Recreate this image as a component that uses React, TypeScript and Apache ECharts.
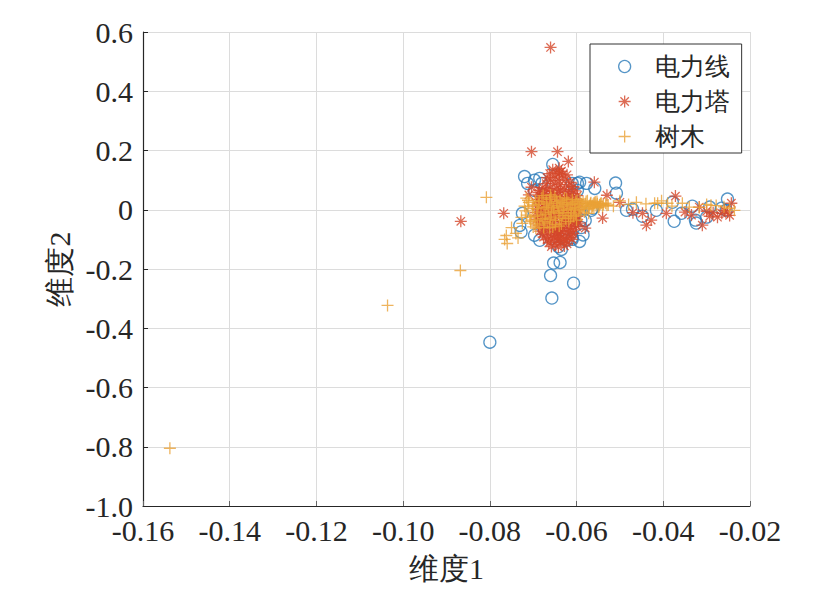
import { useEffect, useRef } from "react";
import * as echarts from "echarts";

// 维度1 / 维度2 embedding of three classes
const seriesNames = ["电力线", "电力塔", "树木"];
const seriesColors = ["#2a7ab9", "#d4472b", "#eaa136"];

const xTickValues = [-0.16, -0.14, -0.12, -0.1, -0.08, -0.06, -0.04, -0.02];
const xTickLabels = ["-0.16", "-0.14", "-0.12", "-0.10", "-0.08", "-0.06", "-0.04", "-0.02"];
const yTickValues = [0.6, 0.4, 0.2, 0, -0.2, -0.4, -0.6, -0.8, -1.0];
const yTickLabels = ["0.6", "0.4", "0.2", "0", "-0.2", "-0.4", "-0.6", "-0.8", "-1.0"];

// 电力线 (circles)
const linePoints: [number, number][] = [
  [-0.08, -0.447], [-0.0657, -0.298], [-0.0607, -0.248], [-0.066, -0.222], [-0.0653, -0.18],
  [-0.0638, -0.178], [-0.0635, -0.134], [-0.0593, -0.107], [-0.061, -0.1], [-0.0624, -0.103],
  [-0.0685, -0.103], [-0.0697, -0.086], [-0.0728, -0.075], [-0.0731, -0.053], [-0.0725, -0.012],
  [-0.0655, 0.153], [-0.051, 0.09], [-0.0508, 0.056], [-0.0713, 0.089], [-0.0697, 0.065],
  [-0.068, 0.089], [-0.072, 0.112], [-0.0697, 0.1], [-0.0685, 0.106], [-0.061, 0.089],
  [-0.0598, 0.089], [-0.0577, 0.089], [-0.0598, 0.065], [-0.0593, 0.093], [-0.0558, 0.072],
  [-0.0563, 0.005], [-0.0566, -0.002], [-0.0485, -0.002], [-0.0605, -0.019], [-0.058, -0.036],
  [-0.0589, -0.06], [-0.061, -0.094], [-0.059, -0.035], [-0.0471, 0.002], [-0.0448, -0.022],
  [-0.0416, -0.002], [-0.0379, 0.025], [-0.0375, -0.039], [-0.0358, -0.012], [-0.0333, 0.012],
  [-0.0326, -0.035], [-0.0324, -0.045], [-0.03, -0.025], [-0.0293, 0.009], [-0.0266, 0.005],
  [-0.0252, 0.036], [-0.0255, -0.002], [-0.0642, -0.125], [-0.0585, -0.085],
];

// 电力塔 (asterisks)
const towerPoints: [number, number][] = [
  [-0.066, 0.548], [-0.0867, -0.039], [-0.0704, 0.196], [-0.0644, 0.196], [-0.0619, 0.163],
  [-0.064, 0.123], [-0.0768, -0.012], [-0.0559, 0.093], [-0.053, 0.049], [-0.054, -0.028],
  [-0.058, -0.062], [-0.05, 0.025], [-0.0704, 0.076], [-0.071, 0.05],
  [-0.0448, -0.012], [-0.0439, -0.052], [-0.0428, -0.035], [-0.0393, -0.012], [-0.0372, 0.046],
  [-0.031, -0.052], [-0.0317, 0.009], [-0.0293, -0.022], [-0.0275, -0.025], [-0.0259, -0.002],
  [-0.0247, -0.019], [-0.0243, 0.022], [-0.047, -0.01], [-0.035, -0.008], [-0.0335, -0.018],
  [-0.03, -0.005], [-0.0285, -0.01], [-0.0265, -0.012], [-0.0252, -0.008],
  [-0.0655, 0.135], [-0.064, 0.14], [-0.0632, 0.118], [-0.0648, 0.11], [-0.066, 0.1],
  [-0.0625, 0.102], [-0.067, 0.088], [-0.0652, 0.09], [-0.0638, 0.085], [-0.0615, 0.092],
  [-0.0678, 0.075], [-0.0662, 0.07], [-0.0645, 0.072], [-0.0628, 0.068], [-0.0608, 0.078],
  [-0.0688, 0.058], [-0.0675, 0.052], [-0.066, 0.055], [-0.0642, 0.058], [-0.0625, 0.05],
  [-0.061, 0.055], [-0.0598, 0.048], [-0.069, 0.035], [-0.068, 0.04], [-0.0665, 0.032],
  [-0.065, 0.038], [-0.0633, 0.03], [-0.0618, 0.036], [-0.0603, 0.03], [-0.0594, 0.022],
  [-0.0692, 0.012], [-0.0678, 0.018], [-0.0662, 0.01], [-0.0648, 0.015], [-0.0636, 0.008],
  [-0.062, 0.014], [-0.0606, 0.006], [-0.0596, 0.0], [-0.0694, -0.01], [-0.068, -0.004],
  [-0.0667, -0.012], [-0.0652, -0.006], [-0.0638, -0.014], [-0.0624, -0.008], [-0.061, -0.016],
  [-0.0598, -0.022], [-0.0692, -0.032], [-0.0676, -0.026], [-0.0662, -0.036], [-0.0648, -0.028],
  [-0.0634, -0.038], [-0.062, -0.03], [-0.0606, -0.04], [-0.0595, -0.045], [-0.0688, -0.052],
  [-0.0672, -0.058], [-0.0657, -0.05], [-0.0642, -0.06], [-0.0628, -0.052], [-0.0614, -0.062],
  [-0.06, -0.056], [-0.0684, -0.072], [-0.0668, -0.078], [-0.0652, -0.07], [-0.0638, -0.082],
  [-0.0622, -0.074], [-0.0608, -0.08], [-0.0676, -0.092], [-0.066, -0.098], [-0.0645, -0.09],
  [-0.063, -0.1], [-0.0616, -0.094], [-0.0664, -0.112], [-0.065, -0.118], [-0.0636, -0.11],
  [-0.0622, -0.115], [-0.0645, -0.105], [-0.067, 0.0], [-0.0655, -0.02], [-0.064, -0.045],
  [-0.0627, 0.022], [-0.0658, 0.024], [-0.0644, -0.072], [-0.0632, -0.062], [-0.0612, -0.048],
  [-0.0686, 0.065], [-0.0672, 0.062], [-0.0656, 0.064], [-0.0637, 0.066], [-0.0618, 0.062],
  [-0.0603, 0.064], [-0.0684, 0.046], [-0.0669, 0.044], [-0.0654, 0.047], [-0.0639, 0.043],
  [-0.0621, 0.044], [-0.0607, 0.041], [-0.0686, 0.024], [-0.0671, 0.027], [-0.0641, 0.025],
  [-0.0613, 0.024], [-0.0599, 0.012], [-0.0687, 0.002], [-0.0674, 0.006], [-0.0659, 0.001],
  [-0.0644, 0.004], [-0.0629, -0.001], [-0.0615, 0.003], [-0.0602, -0.01], [-0.0685, -0.02],
  [-0.067, -0.023], [-0.0645, -0.018], [-0.0631, -0.024], [-0.0616, -0.021], [-0.0603, -0.03],
  [-0.0683, -0.042], [-0.0669, -0.046], [-0.0654, -0.04], [-0.0627, -0.043], [-0.0613, -0.035],
  [-0.06, -0.04], [-0.068, -0.062], [-0.0664, -0.066], [-0.065, -0.058], [-0.0636, -0.07],
  [-0.062, -0.064], [-0.0605, -0.068], [-0.0678, -0.082], [-0.0656, -0.086], [-0.0642, -0.08],
  [-0.0626, -0.088], [-0.0612, -0.084], [-0.0668, -0.102], [-0.0652, -0.094], [-0.0638, -0.098],
  [-0.0624, -0.104], [-0.061, -0.1], [-0.0658, -0.124], [-0.0642, -0.126], [-0.0628, -0.122],
  [-0.0662, 0.122], [-0.0647, 0.125], [-0.0635, 0.13], [-0.0622, 0.118], [-0.0668, 0.108],
  [-0.064, 0.098], [-0.0618, 0.08],
];

// 树木 (plus signs)
const treePoints: [number, number][] = [
  [-0.1538, -0.805], [-0.1036, -0.323], [-0.0868, -0.205], [-0.0808, 0.042],
  [-0.076, -0.114], [-0.0766, -0.1], [-0.075, -0.06], [-0.0762, -0.087], [-0.0727, -0.026],
  [-0.0716, 0.039], [-0.0725, -0.046], [-0.074, -0.08], [-0.0735, -0.095], [-0.0705, -0.035],
  [-0.0712, 0.01],
  [-0.0462, 0.025], [-0.042, 0.022], [-0.0413, 0.022], [-0.0404, 0.03], [-0.039, 0.022],
  [-0.0356, 0.022], [-0.034, 0.009], [-0.0317, 0.008], [-0.029, 0.015], [-0.0278, 0.014],
  [-0.0247, 0.005], [-0.0236, -0.002], [-0.056, 0.022], [-0.0545, 0.02], [-0.05, 0.03],
  [-0.053, 0.015], [-0.0515, 0.012], [-0.048, 0.018], [-0.044, 0.02], [-0.038, 0.012],
  [-0.03, 0.018], [-0.026, 0.01],
  [-0.072, 0.012], [-0.0715, -0.018], [-0.071, 0.025], [-0.0706, -0.04], [-0.0702, 0.004],
  [-0.0698, -0.022], [-0.0695, 0.03], [-0.069, -0.008], [-0.0688, 0.018], [-0.0685, -0.052],
  [-0.068, 0.04], [-0.0678, -0.03], [-0.0675, 0.008], [-0.0672, -0.015], [-0.067, 0.026],
  [-0.0668, -0.045], [-0.0665, 0.002], [-0.0662, 0.035], [-0.066, -0.025], [-0.0657, 0.015],
  [-0.0655, -0.058], [-0.0652, -0.005], [-0.065, 0.045], [-0.0648, -0.036], [-0.0645, 0.022],
  [-0.0642, -0.012], [-0.064, 0.006], [-0.0638, 0.032], [-0.0635, -0.048], [-0.0632, -0.02],
  [-0.063, 0.012], [-0.0628, 0.04], [-0.0625, -0.03], [-0.0622, 0.0], [-0.062, 0.025],
  [-0.0618, -0.04], [-0.0615, 0.016], [-0.0612, -0.01], [-0.061, 0.034], [-0.0607, -0.022],
  [-0.0605, 0.008], [-0.0602, 0.028], [-0.06, -0.035], [-0.0597, 0.018], [-0.0595, -0.004],
  [-0.0592, 0.036], [-0.059, -0.018], [-0.0587, 0.01], [-0.0585, 0.026], [-0.0582, -0.008],
  [-0.058, 0.02], [-0.0577, 0.002], [-0.0575, 0.03], [-0.0572, -0.012], [-0.057, 0.014],
  [-0.0567, 0.024], [-0.0565, 0.006], [-0.0562, 0.018], [-0.056, 0.01], [-0.0557, 0.026],
  [-0.0555, 0.014], [-0.0552, 0.02], [-0.055, 0.008], [-0.0547, 0.016], [-0.0543, 0.022],
  [-0.054, 0.012], [-0.0668, 0.01], [-0.0658, -0.01], [-0.0646, 0.028], [-0.0636, -0.002],
  [-0.0624, 0.018], [-0.0614, -0.028], [-0.0604, 0.0], [-0.0676, -0.06], [-0.0694, -0.062],
  [-0.066, 0.05],
  [-0.0718, -0.004], [-0.0712, 0.032], [-0.0708, -0.026], [-0.07, 0.016], [-0.0696, -0.048],
  [-0.0692, 0.004], [-0.0686, 0.028], [-0.0682, -0.018], [-0.0677, 0.048], [-0.0673, -0.04],
  [-0.0669, 0.02], [-0.0663, -0.032], [-0.0659, 0.04], [-0.0653, 0.006], [-0.0649, -0.05],
  [-0.0643, 0.012], [-0.0639, -0.028], [-0.0633, 0.024], [-0.0629, -0.01], [-0.0623, 0.036],
  [-0.0619, -0.02], [-0.0613, 0.004], [-0.0609, 0.022], [-0.0603, -0.014], [-0.0599, 0.03],
  [-0.0593, 0.006], [-0.0589, 0.02], [-0.0583, 0.012], [-0.0578, 0.028], [-0.0573, 0.004],
  [-0.0568, 0.02], [-0.0563, 0.012], [-0.0558, 0.022], [-0.0553, 0.028], [-0.0548, 0.01],
  [-0.0538, 0.018], [-0.0533, 0.022], [-0.0527, 0.016], [-0.069, -0.035], [-0.0662, -0.06],
  [-0.064, -0.055], [-0.07, -0.058],
];

const circleSymbol = "circle";
const asteriskSymbol = "path://M5,0L5,10M0,5L10,5M1.5,1.5L8.5,8.5M1.5,8.5L8.5,1.5";
const plusSymbol = "path://M5,0L5,10M0,5L10,5";

const FONT = "Liberation Serif, serif";
const INK = "#262626";

const labelFor = (values: number[], labels: string[]) => (v: number) => {
  const i = values.findIndex((t) => Math.abs(t - v) < 1e-9);
  return i >= 0 ? labels[i] : "";
};

export default function App() {
  const ref = useRef<HTMLDivElement>(null);

  useEffect(() => {
    if (!ref.current) return;
    const chart = echarts.init(ref.current, null, { renderer: "svg" });

    const mk = (i: number, data: [number, number][], symbol: string, size: number) => ({
      name: seriesNames[i],
      type: "scatter",
      data,
      symbol,
      symbolSize: size,
      itemStyle: { color: "transparent", borderColor: seriesColors[i], borderWidth: 1.3 },
      emphasis: { disabled: true },
    });

    chart.setOption({
      animation: false,
      backgroundColor: "#fff",
      textStyle: { fontFamily: FONT },
      grid: { left: 143, right: 85, top: 32, bottom: 99 },
      legend: {
        data: seriesNames,
        orient: "vertical",
        left: 590,
        top: 44,
        padding: [10, 12, 4, 28],
        itemGap: 10,
        itemWidth: 12,
        itemHeight: 12,
        backgroundColor: "#fff",
        borderColor: "#333",
        borderWidth: 1,
        borderRadius: 0,
        itemStyle: { borderWidth: 1.3 },
        textStyle: { fontFamily: FONT, fontSize: 25, color: INK, lineHeight: 24, padding: [0, 0, 0, 19] },
      },
      xAxis: {
        type: "value",
        min: -0.16,
        max: -0.02,
        interval: 0.02,
        name: "维度1",
        nameLocation: "middle",
        nameGap: 47,
        nameTextStyle: { fontFamily: FONT, fontSize: 30, color: INK },
        axisLine: { onZero: false, lineStyle: { color: INK, width: 1.2 } },
        axisTick: { inside: true, length: 5, lineStyle: { color: "#666" } },
        axisLabel: { fontFamily: FONT, fontSize: 30, lineHeight: 22, color: INK, margin: 13, formatter: labelFor(xTickValues, xTickLabels) },
        splitLine: { show: true, lineStyle: { color: "#dcdcdc", width: 1 } },
      },
      yAxis: {
        type: "value",
        min: -1.0,
        max: 0.6,
        interval: 0.2,
        name: "维度2",
        nameLocation: "middle",
        nameRotate: 90,
        nameGap: 60,
        nameTextStyle: { fontFamily: FONT, fontSize: 30, color: INK },
        axisLine: { show: true, onZero: false, lineStyle: { color: INK, width: 1.2 } },
        axisTick: { show: true, inside: true, length: 5, lineStyle: { color: INK } },
        axisLabel: { fontFamily: FONT, fontSize: 30, lineHeight: 22, color: INK, margin: 10, formatter: labelFor(yTickValues, yTickLabels) },
        splitLine: { show: true, lineStyle: { color: "#dcdcdc", width: 1 } },
      },
      series: [
        mk(0, linePoints, circleSymbol, 12),
        mk(1, towerPoints, asteriskSymbol, 12),
        mk(2, treePoints, plusSymbol, 12),
      ],
    });

    return () => chart.dispose();
  }, []);

  return <div ref={ref} style={{ position: "absolute", left: 0, top: 0, width: 835, height: 605 }} />;
}
